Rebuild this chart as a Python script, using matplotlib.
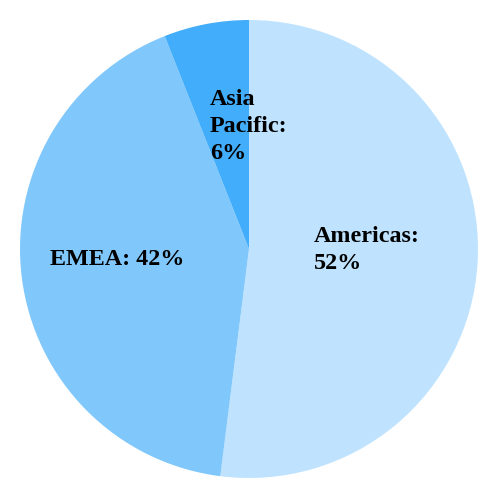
import matplotlib
matplotlib.use("Agg")
import matplotlib.pyplot as plt
import numpy as np

categories = ["Americas", "EMEA", "Asia Pacific"]
values = [52, 42, 6]
label_texts = ["Americas:\n52%", "EMEA: 42%", "Asia\nPacific:\n6%"]
colors = ["#BFE3FE", "#80C8FC", "#42ADFA"]

fig = plt.figure(figsize=(5, 5), dpi=100)
ax = fig.add_axes([0, 0, 1, 1])
R = 229.0
cx, cy = 249.0, 249.0

wedges, _ = ax.pie(values, colors=colors, startangle=90, counterclock=False,
                   radius=1.0, center=(0, 0), frame=True,
                   wedgeprops=dict(linewidth=0))
ax.set_xlim(-cx / R, (500 - cx) / R)
ax.set_ylim(-(500 - cy) / R, cy / R)
ax.axis("off")

fracs = [0.515, 0.579, 0.556]
nudges = [(0.0, 0.026), (0.0, 0.026), (0.102, -0.01)]
for w, txt, f, (dx, dy) in zip(wedges, label_texts, fracs, nudges):
    mid = np.deg2rad((w.theta1 + w.theta2) / 2)
    x = f * np.cos(mid) + dx
    y = f * np.sin(mid) + dy
    ax.text(x, y, txt, ha="center", va="center", multialignment="left",
            fontsize=17.4, fontweight="bold",
            family=["Liberation Serif", "DejaVu Serif"],
            color="#000000", linespacing=1.38)

fig.savefig("out.png", dpi=100, facecolor="white")
